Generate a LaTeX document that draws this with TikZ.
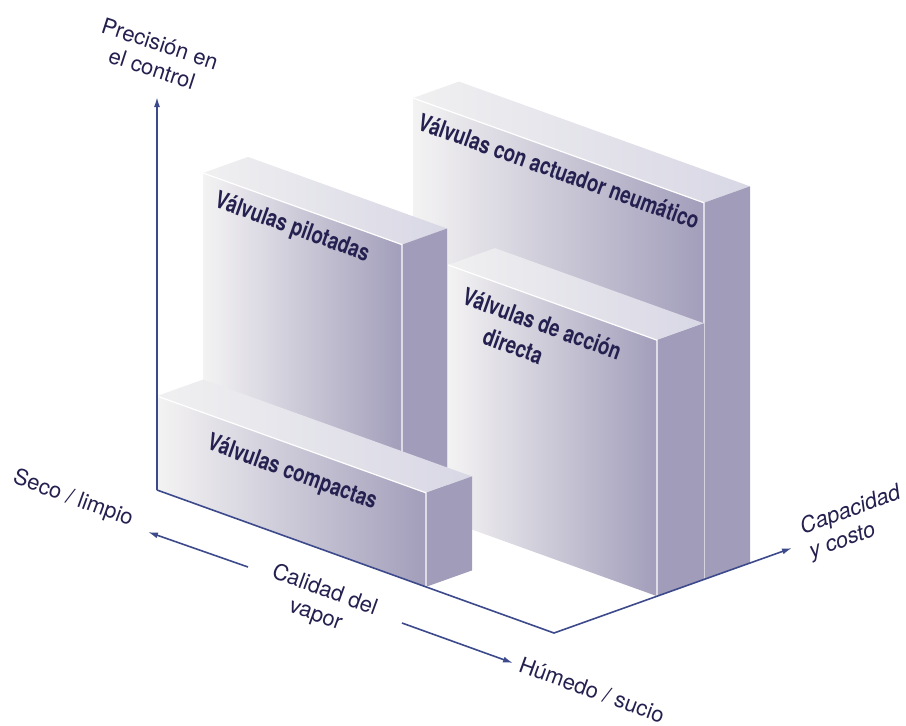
\documentclass[tikz,border=0pt]{standalone}
\usepackage{graphicx}
\usepackage{fontspec}
\setmainfont{TeX Gyre Heros}
\usetikzlibrary{arrows.meta}

\definecolor{axisblue}{HTML}{3C4A8C}
\definecolor{txt}{HTML}{24204F}
\definecolor{frontL}{HTML}{F4F3F3}
\definecolor{frontR}{HTML}{A29EBB}
\definecolor{topL}{HTML}{F0F0F1}
\definecolor{topR}{HTML}{D8D7E5}
\definecolor{sideC}{HTML}{A09CBA}

\tikzset{
  axisline/.style={draw=axisblue, line width=0.8pt, >={Latex[length=5pt,width=3pt]}},
  frontface/.style={left color=frontL, right color=frontR},
  topface/.style={left color=topL, right color=topR},
  sideface/.style={fill=sideC},
  whiteedge/.style={draw=white, line width=0.6pt},
  boxlabel/.style={font=\bfseries\fontsize{12}{14.4}\selectfont, text=txt, rotate=-19.8, inner sep=0pt},
  axislabel/.style={font=\fontsize{11}{13}\selectfont, text=txt, inner sep=0pt},
}

% condensed bold text
\newcommand{\cond}[1]{\scalebox{0.78}[1]{#1}}

% box: a0, a1, b0, b1, height
\newcommand{\valvebox}[5]{%
  \path[frontface] (#1,0,#3) -- (#2,0,#3) -- (#2,#5,#3) -- (#1,#5,#3) -- cycle;
  \path[topface] (#1,#5,#3) -- (#2,#5,#3) -- (#2,#5,#4) -- (#1,#5,#4) -- cycle;
  \path[sideface] (#2,0,#3) -- (#2,0,#4) -- (#2,#5,#4) -- (#2,#5,#3) -- cycle;
  \draw[whiteedge] (#1,#5,#3) -- (#2,#5,#3) -- (#2,0,#3);
}

\begin{document}
\begin{tikzpicture}[x=0.5pt, y=-0.5pt]
\useasboundingbox (0,0) rectangle (906,725);

% boxes, back to front
\begin{scope}[shift={(157,490)}, x={(0.5pt,-0.18pt)}, y={(0pt,0.5pt)}, z={(0.5pt,0.1785pt)}]
\valvebox{106}{397}{150}{196}{376.6}
\valvebox{188}{397}{103}{150}{256}
\valvebox{0}{199}{46}{91}{300.6}
\valvebox{0}{269}{0}{46}{94}
\end{scope}

% axes
\coordinate (O) at (157,490);
\coordinate (precTip) at (157,97);
\coordinate (floorC) at (554,633);
\coordinate (capTip) at (792,548);
\draw[axisline, ->] (O) -- (precTip);
\draw[axisline, ->] (O) -- (floorC) -- (capTip);

\coordinate (calA) at (248,567);
\coordinate (calB) at (148,532);
\coordinate (calC) at (402,623);
\coordinate (calD) at (513,663);
\draw[axisline, ->] (calA) -- (calB);
\draw[axisline, ->] (calC) -- (calD);

% box labels
\node[boxlabel] (comp) at (292,473) {\cond{Válvulas compactas}};
\node[boxlabel] (pil) at (292,228) {\cond{Válvulas pilotadas}};
\node[boxlabel] (act) at (559,171) {\cond{Válvulas con actuador neumático}};
\node[boxlabel] (dir) at (536,341) {\cond{\begin{tabular}{@{}l@{}}Válvulas de acción\\[1pt]\hspace*{1.75em}directa\end{tabular}}};

% axis labels
\node[axislabel, align=center, rotate=-18] (prec) at (156,56) {Precisión en\\el control};
\node[axislabel, rotate=-20] (seco) at (73,499) {Seco / limpio};
\node[axislabel, align=center, rotate=-20] (cal) at (320,603) {Calidad del\\vapor};
\node[axislabel, rotate=-20] (hum) at (592,690) {Húmedo / sucio};
\node[axislabel, align=left, rotate=20, font=\itshape\fontsize{11}{13}\selectfont] (cap) at (855,523) {Capacidad\\y costo};
\end{tikzpicture}
\end{document}
